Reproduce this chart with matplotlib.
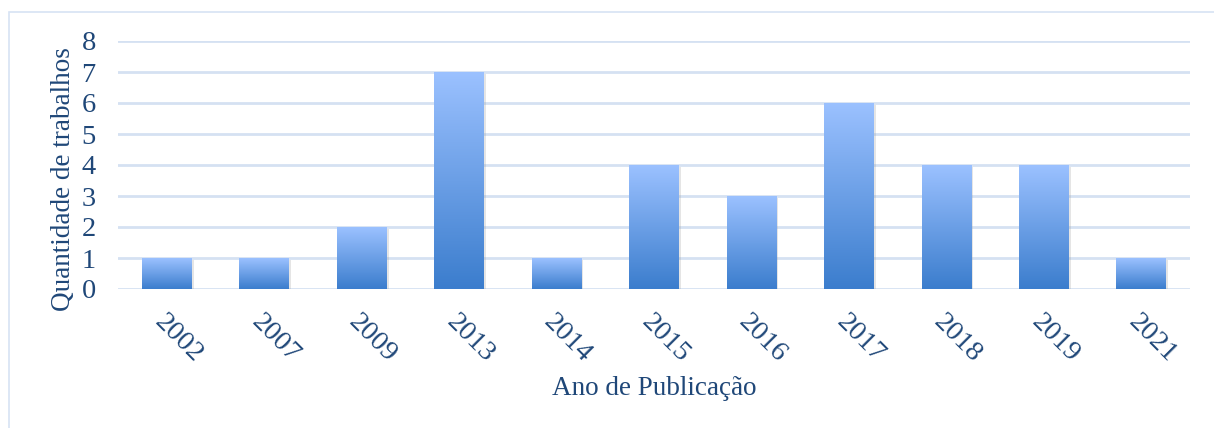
import matplotlib.pyplot as plt
import matplotlib.patheffects as pe
import numpy as np
from matplotlib.colors import LinearSegmentedColormap
from matplotlib.patches import Rectangle

# dados
anos = ['2002', '2007', '2009', '2013', '2014', '2015', '2016', '2017', '2018', '2019', '2021']
trabalhos = [1, 1, 2, 7, 1, 4, 3, 6, 4, 4, 1]

cor_texto = '#1f4778'
cor_grade = '#d5e1f2'
grad = LinearSegmentedColormap.from_list('grad', ['#3b7dcd', '#9bc1ff'])

plt.rcParams['font.family'] = ['Liberation Serif', 'DejaVu Serif']

fig = plt.figure(figsize=(12.14, 4.28), dpi=100)
ax = fig.add_axes([118 / 1214, 1 - 289 / 428, 1072 / 1214, 248 / 428])

# moldura do grafico
fig.patches.append(Rectangle((9 / 1214, -0.1), 1.2, 1 - 12 / 428 + 0.1,
                             transform=fig.transFigure, fill=False,
                             edgecolor='#d7e3f4', linewidth=1.2))

x = np.arange(len(anos))
barras = ax.bar(x, trabalhos, width=0.51, color='none', zorder=2,
                path_effects=[pe.SimplePatchShadow(offset=(1.5, -1.5), shadow_rgbFace='#999999', alpha=0.25)])
g = np.linspace(0, 1, 256).reshape(-1, 1)
for b in barras:
    x0, y0 = b.get_x(), b.get_y()
    w, h = b.get_width(), b.get_height()
    ax.add_patch(Rectangle((x0, y0), w, h, facecolor='white', edgecolor='none', zorder=2.5))
    ax.imshow(g, cmap=grad, origin='lower', aspect='auto',
              extent=(x0, x0 + w, y0, y0 + h), zorder=3)

ax.set_xlim(-0.5, len(anos) - 0.5)
ax.set_ylim(0, 8)
ax.set_yticks(range(0, 9))
ax.grid(axis='y', color=cor_grade, linewidth=2, zorder=0)
ax.set_axisbelow(True)
for s in ax.spines.values():
    s.set_visible(False)
ax.tick_params(length=0, labelsize=20.5, labelcolor=cor_texto)
ax.tick_params(axis='y', pad=16)
ax.set_xticks(x)
ax.set_xticklabels(anos, rotation=-45, ha='left', va='top', rotation_mode='anchor')
ax.tick_params(axis='x', pad=15)

ax.set_ylabel('Quantidade de trabalhos', fontsize=19.5, color=cor_texto)
ax.yaxis.set_label_coords(-0.039, 0.444)
ax.set_xlabel('Ano de Publicação', fontsize=19.5, color=cor_texto, labelpad=6)

fig.savefig('out.png', dpi=100)
